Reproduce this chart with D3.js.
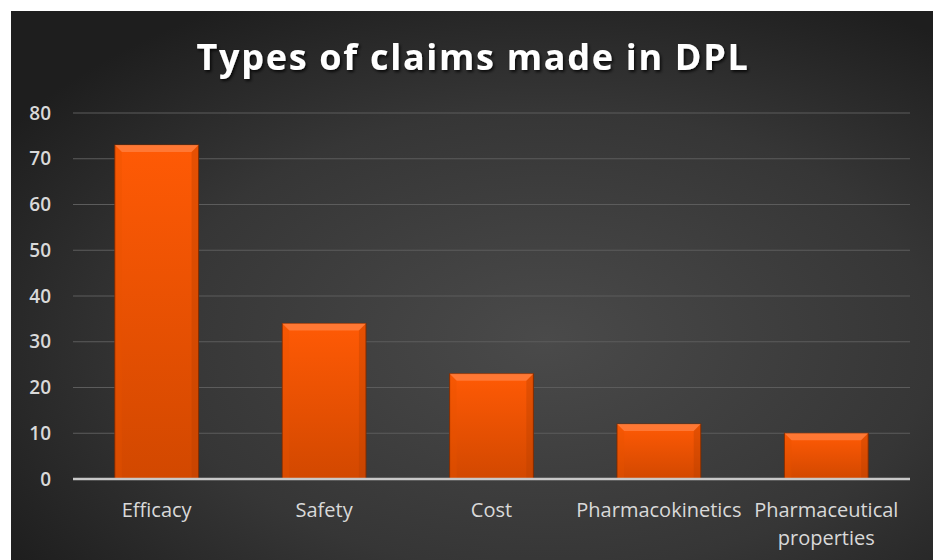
<!DOCTYPE html>
<html><head><meta charset="utf-8">
<script src="https://cdn.jsdelivr.net/npm/d3@7"></script>
<style>html,body{margin:0;padding:0;background:#fff;}svg{display:block;}</style>
</head><body>
<script>
const categories = ["Efficacy","Safety","Cost","Pharmacokinetics","Pharmaceutical properties"];
const values = [73, 34, 23, 12, 10];
const yTicks = [0,10,20,30,40,50,60,70,80];
const title = "Types of claims made in DPL";

(function(){
const W = 933, H = 560;
const svg = d3.select("body").append("svg").attr("width", W).attr("height", H);
const defs = svg.append("defs");

const rg = defs.append("radialGradient").attr("id","bg").attr("cx","58%").attr("cy","60%").attr("r","70%");
rg.append("stop").attr("offset","0%").attr("stop-color","#4a4a4a");
rg.append("stop").attr("offset","60%").attr("stop-color","#363636");
rg.append("stop").attr("offset","100%").attr("stop-color","#1e1e1e");

const bg = defs.append("linearGradient").attr("id","bar").attr("x1",0).attr("y1",0).attr("x2",0).attr("y2",1);
bg.append("stop").attr("offset","0%").attr("stop-color","#ff5a05");
bg.append("stop").attr("offset","100%").attr("stop-color","#d24800");

const sh = defs.append("filter").attr("id","ts").attr("x","-10%").attr("y","-30%").attr("width","120%").attr("height","160%");
sh.append("feDropShadow").attr("dx",1.5).attr("dy",2).attr("stdDeviation",1.5).attr("flood-color","#000").attr("flood-opacity",0.8);

svg.append("rect").attr("x",11).attr("y",11).attr("width",W-11).attr("height",H-11).attr("fill","url(#bg)");

const pL = 73, pR = 910, pT = 113, pB = 479;
const x = d3.scaleBand().domain(categories).range([pL,pR]).paddingInner(0.5).paddingOuter(0.25);
const y = d3.scaleLinear().domain([0,80]).range([pB, pT]);

svg.append("g").selectAll("line").data(yTicks.filter(d=>d>0)).join("line")
  .attr("x1",pL).attr("x2",pR).attr("y1",d=>y(d)).attr("y2",d=>y(d))
  .attr("stroke","#5c5c5c").attr("stroke-width",1);

const yAxis = d3.axisLeft(y).tickValues(yTicks).tickSize(0).tickPadding(0);
const gy = svg.append("g").attr("transform",`translate(51,0)`).call(yAxis);
gy.select(".domain").remove();
gy.selectAll("text").attr("fill","#d9d9d9").style("font-family","'Open Sans', sans-serif")
  .style("font-size","19px").style("font-weight","600");

const bars = svg.append("g").selectAll("g").data(categories).join("g");
bars.append("rect")
  .attr("x",d=>x(d)).attr("y",(d,i)=>y(values[i])).attr("width",x.bandwidth())
  .attr("height",(d,i)=>pB - y(values[i]))
  .attr("fill","url(#bar)").attr("stroke","#7a2a00").attr("stroke-width",1);
const b = 7;
bars.append("path")
  .attr("d",(d,i)=>{const x0=x(d), x1=x(d)+x.bandwidth(), y0=y(values[i]);
    return `M${x0},${y0} L${x1},${y0} L${x1-b},${y0+b} L${x0+b},${y0+b} Z`;})
  .attr("fill","#ff8040").attr("opacity",0.8);
bars.append("path")
  .attr("d",(d,i)=>{const x0=x(d), y0=y(values[i]);
    return `M${x0},${y0} L${x0+b},${y0+b} L${x0+b},${pB} L${x0},${pB} Z`;})
  .attr("fill","#e85200").attr("opacity",0.3);
bars.append("path")
  .attr("d",(d,i)=>{const x1=x(d)+x.bandwidth(), y0=y(values[i]);
    return `M${x1},${y0} L${x1-b},${y0+b} L${x1-b},${pB} L${x1},${pB} Z`;})
  .attr("fill","#b83f00").attr("opacity",0.35);

svg.append("line").attr("x1",pL).attr("x2",pR).attr("y1",pB).attr("y2",pB)
  .attr("stroke","#c8c8c8").attr("stroke-width",2.5);

const lab = svg.append("g").selectAll("text").data(categories).join("text")
  .attr("x",d=>x(d)+x.bandwidth()/2).attr("y",517)
  .attr("text-anchor","middle").attr("fill","#d9d9d9")
  .style("font-family","'Open Sans', sans-serif").style("font-size","20px");
lab.each(function(d){
  const t = d3.select(this);
  if (d === "Pharmaceutical properties") {
    t.append("tspan").attr("x",x(d)+x.bandwidth()/2).attr("dy",0).text("Pharmaceutical");
    t.append("tspan").attr("x",x(d)+x.bandwidth()/2).attr("dy",28).text("properties");
  } else t.text(d);
});

svg.append("text").attr("x",473).attr("y",70).attr("text-anchor","middle")
  .attr("fill","#ffffff").style("font-family","'Open Sans', sans-serif").style("font-weight","700")
  .style("font-size","36px").style("letter-spacing","1.7px").attr("filter","url(#ts)").text(title);
})();
</script>
</body></html>
